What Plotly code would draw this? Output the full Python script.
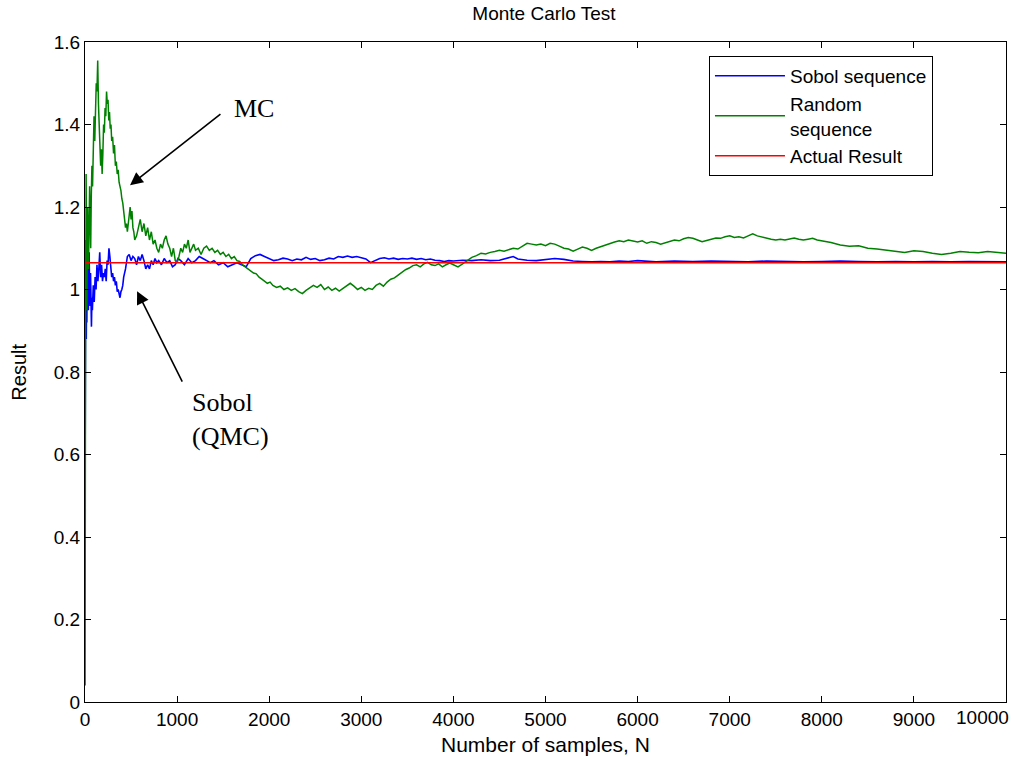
import plotly.graph_objects as go

# ---------------- data ----------------
sobol_n = [1, 2, 3, 4, 5, 6, 8, 10, 12, 14, 16, 18, 20, 24, 28, 32, 36, 40, 45, 50, 55, 60, 65, 70, 75, 80, 90,
           100, 110, 120, 130, 140, 150, 160, 170, 180, 190, 200, 210, 220, 230, 240, 250, 260, 270, 280, 290,
           300, 310, 320, 330, 340, 350, 360, 370, 380, 390, 400, 410, 420, 440, 460, 480, 500, 520, 540, 560,
           580, 600, 620, 640, 660, 680, 700, 720, 740, 760, 780, 800, 830, 860, 890, 920, 950, 980, 1010, 1040,
           1080, 1120, 1160, 1200, 1240, 1280, 1320, 1360, 1400, 1450, 1500, 1550, 1600, 1650, 1700, 1750, 1800,
           1850, 1900, 1950, 2000, 2050, 2100, 2150, 2200, 2250, 2300, 2350, 2400, 2450, 2500, 2550, 2600, 2650,
           2700, 2750, 2800, 2850, 2900, 2950, 3000, 3050, 3100, 3150, 3200, 3250, 3300, 3350, 3400, 3450, 3500,
           3550, 3600, 3650, 3700, 3750, 3800, 3850, 3900, 3950, 4000, 4100, 4200, 4300, 4400, 4500, 4600, 4650,
           4700, 4800, 4900, 5000, 5100, 5200, 5300, 5400, 5500, 5600, 5700, 5800, 5900, 6000, 6200, 6400, 6600,
           6800, 7000, 7200, 7400, 7600, 7800, 8000, 8200, 8400, 8600, 8800, 9000, 9200, 9400, 9600, 9800, 10000]
sobol_val = [0.54, 0.86, 0.95, 1.10, 0.90, 0.98, 1.10, 0.93, 1.00, 0.88, 0.96, 1.02, 0.92, 1.07, 1.10, 1.03, 0.95,
             1.05, 1.09, 1.00, 0.96, 1.04, 0.93, 0.91, 0.98, 0.95, 1.01,
             0.97, 1.03, 1.00, 1.06, 1.02, 1.05, 1.09, 1.03, 1.06, 1.02, 1.04, 1.03, 1.05, 1.02, 1.07, 1.06, 1.10,
             1.08, 1.05, 1.03, 1.04, 1.02, 1.03, 1.01, 1.02, 0.995, 1.00, 0.985, 0.98, 0.995, 1.00, 1.01, 1.03,
             1.05, 1.08, 1.085, 1.07, 1.08, 1.075, 1.06, 1.08, 1.07, 1.085, 1.07, 1.05, 1.06, 1.05, 1.07, 1.06,
             1.075, 1.065, 1.07, 1.06, 1.075, 1.065, 1.07, 1.055, 1.06, 1.075, 1.07, 1.06, 1.075, 1.065, 1.07,
             1.08, 1.075, 1.07, 1.065, 1.07, 1.06, 1.065, 1.055, 1.06, 1.065, 1.06, 1.055, 1.075, 1.082, 1.085,
             1.08, 1.075, 1.07, 1.072, 1.076, 1.074, 1.07, 1.074, 1.072, 1.078, 1.073, 1.075, 1.07, 1.072, 1.076,
             1.074, 1.08, 1.078, 1.081, 1.078, 1.08, 1.077, 1.074, 1.065, 1.07, 1.075, 1.077, 1.074, 1.076, 1.073,
             1.075, 1.074, 1.076, 1.073, 1.075, 1.072, 1.074, 1.071, 1.07, 1.068, 1.07, 1.069, 1.071, 1.07, 1.072,
             1.07, 1.071, 1.076, 1.08, 1.074, 1.071, 1.07, 1.072, 1.075, 1.073, 1.069, 1.068, 1.067, 1.068, 1.067,
             1.069, 1.068, 1.07, 1.067, 1.069, 1.068, 1.069, 1.068, 1.067, 1.069, 1.068, 1.067, 1.068, 1.069,
             1.068, 1.067, 1.068, 1.067, 1.068, 1.067, 1.068, 1.067, 1.067]

random_n = [1, 2, 3, 4, 5, 6, 7, 8, 10, 12, 14, 17, 20, 24, 28, 33, 38, 44, 50, 56, 62, 68, 75, 82, 90, 98, 106,
            114, 122, 130, 138, 146, 154, 162, 170, 178, 186, 194, 202, 210, 218, 226, 234, 242, 250, 258, 266,
            274, 282, 290, 300, 310, 320, 330, 340, 350, 360, 370, 380, 390, 400, 410, 420, 430, 440, 450, 460,
            470, 480, 490, 500, 510, 520, 530, 540, 560, 580, 600, 620, 640, 660, 680, 700, 720, 740, 760, 780,
            800, 820, 840, 860, 880, 900, 920, 940, 960, 980, 1000, 1020, 1040, 1060, 1080, 1100, 1120, 1140,
            1160, 1180, 1200, 1230, 1260, 1290, 1320, 1350, 1380, 1410, 1440, 1470, 1500, 1530, 1560, 1590, 1620,
            1650, 1680, 1710, 1740, 1770, 1800, 1830, 1860, 1890, 1920, 1950, 1980, 2010, 2040, 2080, 2120, 2160,
            2200, 2240, 2280, 2320, 2360, 2400, 2440, 2480, 2520, 2560, 2600, 2640, 2680, 2720, 2760, 2800, 2840,
            2880, 2920, 2960, 3000, 3040, 3080, 3120, 3160, 3200, 3240, 3280, 3320, 3360, 3400, 3440, 3480, 3520,
            3560, 3600, 3640, 3680, 3720, 3760, 3800, 3840, 3880, 3920, 3960, 4000, 4050, 4100, 4150, 4200, 4250,
            4300, 4350, 4400, 4450, 4500, 4550, 4600, 4650, 4700, 4750, 4800, 4850, 4900, 4950, 5000, 5050, 5100,
            5150, 5200, 5250, 5300, 5350, 5400, 5450, 5500, 5550, 5600, 5650, 5700, 5750, 5800, 5850, 5900, 5950,
            6000, 6050, 6100, 6150, 6200, 6250, 6300, 6350, 6400, 6450, 6500, 6550, 6600, 6650, 6700, 6750, 6800,
            6850, 6900, 6950, 7000, 7050, 7100, 7150, 7200, 7250, 7300, 7350, 7400, 7450, 7500, 7550, 7600, 7650,
            7700, 7750, 7800, 7850, 7900, 7950, 8000, 8100, 8200, 8300, 8400, 8500, 8600, 8700, 8800, 8900, 9000,
            9100, 9200, 9300, 9400, 9500, 9600, 9700, 9800, 9900, 10000]
random_val = [0.04, 0.52, 0.68, 0.95, 0.80, 1.00, 1.12, 0.98, 1.10, 1.28, 1.15, 1.02, 0.95, 1.08, 1.20, 1.12, 1.05,
              1.15, 1.25, 1.18, 1.10, 1.22, 1.30, 1.25, 1.35, 1.42, 1.36, 1.45, 1.50, 1.48, 1.555, 1.45, 1.38,
              1.33, 1.30, 1.34, 1.28, 1.33, 1.40, 1.38, 1.44, 1.42, 1.48, 1.45, 1.46, 1.41, 1.43, 1.39, 1.40,
              1.36, 1.37, 1.33, 1.35, 1.30, 1.31, 1.28, 1.29, 1.26, 1.25, 1.24, 1.22, 1.21, 1.19, 1.17, 1.15,
              1.16, 1.14, 1.16, 1.18, 1.20, 1.17, 1.19, 1.15, 1.14, 1.12, 1.13, 1.15, 1.17, 1.14, 1.16, 1.13,
              1.15, 1.12, 1.14, 1.11, 1.12, 1.10, 1.09, 1.11, 1.10, 1.12, 1.13, 1.11, 1.10, 1.08, 1.10, 1.07,
              1.065, 1.08, 1.10, 1.09, 1.11, 1.10, 1.12, 1.09, 1.10, 1.11, 1.095, 1.10, 1.085, 1.10, 1.105, 1.095,
              1.10, 1.09, 1.095, 1.085, 1.09, 1.08, 1.085, 1.075, 1.08, 1.07, 1.068, 1.06, 1.055, 1.05, 1.045,
              1.04, 1.038, 1.03, 1.025, 1.02, 1.015, 1.018, 1.01, 1.005, 1.008, 1.00, 1.004, 0.998, 1.002, 0.995,
              0.99, 0.998, 1.005, 1.01, 1.005, 1.012, 1.00, 1.006, 0.998, 1.003, 0.996, 1.002, 1.01, 1.015, 1.008,
              1.00, 1.005, 0.998, 1.003, 1.00, 1.01, 1.015, 1.008, 1.018, 1.025, 1.028, 1.035, 1.042, 1.048, 1.052,
              1.058, 1.06, 1.055, 1.062, 1.066, 1.06, 1.058, 1.062, 1.055, 1.06, 1.064, 1.06, 1.055, 1.062, 1.07,
              1.078, 1.082, 1.088, 1.086, 1.09, 1.092, 1.095, 1.093, 1.097, 1.10, 1.098, 1.105, 1.112, 1.11, 1.108,
              1.11, 1.106, 1.112, 1.11, 1.105, 1.10, 1.098, 1.093, 1.098, 1.103, 1.10, 1.095, 1.10, 1.104, 1.108,
              1.112, 1.115, 1.118, 1.116, 1.12, 1.118, 1.115, 1.118, 1.112, 1.116, 1.114, 1.11, 1.113, 1.117, 1.12,
              1.118, 1.123, 1.126, 1.124, 1.12, 1.116, 1.119, 1.122, 1.125, 1.124, 1.128, 1.13, 1.126, 1.128, 1.125,
              1.13, 1.135, 1.13, 1.127, 1.125, 1.122, 1.12, 1.122, 1.12, 1.123, 1.125, 1.122, 1.12, 1.122, 1.124,
              1.12, 1.118, 1.114, 1.108, 1.105, 1.106, 1.10, 1.098, 1.095, 1.093, 1.09, 1.094, 1.092, 1.088, 1.085,
              1.088, 1.092, 1.09, 1.089, 1.092, 1.09, 1.088]

actual_n = [0, 10000]
actual_val = [1.065, 1.065]

x_ticks = [0, 1000, 2000, 3000, 4000, 5000, 6000, 7000, 8000, 9000, 10000]
x_tick_text = ["0", "1000", "2000", "3000", "4000", "5000", "6000", "7000", "8000", "9000", ""]
last_x_label = "10000"
y_ticks = [0, 0.2, 0.4, 0.6, 0.8, 1.0, 1.2, 1.4, 1.6]
y_tick_text = ["0", "0.2", "0.4", "0.6", "0.8", "1", "1.2", "1.4", "1.6"]

# ---------------- figure ----------------
UI = "Liberation Sans"
SERIF = "Liberation Serif"

fig = go.Figure()
fig.add_trace(go.Scatter(x=sobol_n, y=sobol_val, mode="lines", name="Sobol sequence",
                         line=dict(color="#0000ff", width=1.6)))
fig.add_trace(go.Scatter(x=random_n, y=random_val, mode="lines", name="Random<br>sequence",
                         line=dict(color="#008000", width=1.5)))
fig.add_trace(go.Scatter(x=actual_n, y=actual_val, mode="lines", name="Actual Result",
                         line=dict(color="#ff0000", width=1.4)))

axis_common = dict(showline=True, linecolor="black", linewidth=1, mirror="ticks", ticks="inside",
                   ticklen=6, tickcolor="black", showgrid=False, zeroline=False, automargin=False,
                   tickfont=dict(family=UI, size=19, color="black"))

fig.update_layout(
    width=1013, height=763,
    margin=dict(l=85, r=7, t=42, b=61),
    paper_bgcolor="white", plot_bgcolor="white",
    title=dict(text="Monte Carlo Test", x=0.537, xanchor="center", y=0.982, yanchor="middle",
               font=dict(family=UI, size=19, color="black")),
    xaxis=dict(range=[0, 10000], tickvals=x_ticks, ticktext=x_tick_text, **axis_common),
    yaxis=dict(range=[0, 1.6], tickvals=y_ticks, ticktext=y_tick_text, **axis_common),
    legend=dict(x=0.9207, xanchor="right", y=0.979, yanchor="top",
                bgcolor="white", bordercolor="black", borderwidth=1, itemwidth=70,
                font=dict(family=UI, size=19, color="black"), tracegroupgap=0),
    showlegend=True,
)

# last x tick label kept inside the picture
fig.add_annotation(x=1.0055, y=0, xref="paper", yref="paper", yshift=-3, text=last_x_label,
                   showarrow=False, xanchor="right", yanchor="top",
                   font=dict(family=UI, size=19, color="black"))

# axis titles
fig.add_annotation(x=0.5, y=-0.065, xref="paper", yref="paper", text="Number of samples, N",
                   showarrow=False, xanchor="center", yanchor="middle",
                   font=dict(family=UI, size=21, color="black"))
fig.add_annotation(x=-0.072, y=0.5, xref="paper", yref="paper", text="Result", textangle=-90,
                   showarrow=False, xanchor="center", yanchor="middle",
                   font=dict(family=UI, size=20, color="black"))

# annotations (MC and Sobol arrows)
fig.add_annotation(x=489, y=1.253, ax=1487, ay=1.428, axref="x", ayref="y", xref="x", yref="y",
                   text="", showarrow=True, arrowhead=2, arrowsize=1.6, arrowwidth=1.6, arrowcolor="black")
fig.add_annotation(x=1596, y=1.44, xref="x", yref="y", text="MC", showarrow=False, xanchor="left",
                   yanchor="middle", font=dict(family=SERIF, size=26, color="black"))
fig.add_annotation(x=565, y=0.996, ax=1064, ay=0.773, axref="x", ayref="y", xref="x", yref="y",
                   text="", showarrow=True, arrowhead=2, arrowsize=1.6, arrowwidth=1.6, arrowcolor="black")
fig.add_annotation(x=1140, y=0.765, xref="x", yref="y", text="Sobol<br>(QMC)", showarrow=False,
                   xanchor="left", yanchor="top", align="left",
                   font=dict(family=SERIF, size=26, color="black"))

fig.write_html("out.html", config={"displayModeBar": False},
               post_script="document.body.style.margin='0';document.body.style.padding='0';")
